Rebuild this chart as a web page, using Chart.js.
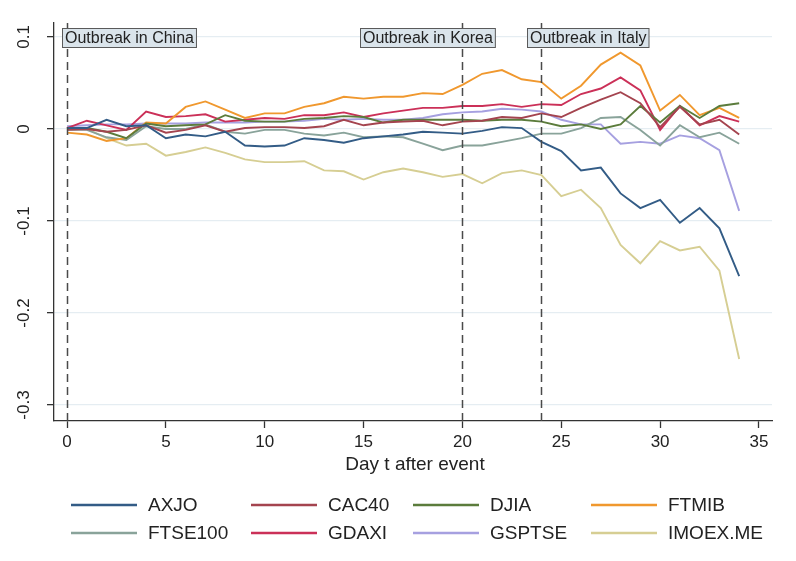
<!DOCTYPE html>
<html>
<head>
    <title>Index returns after outbreak events</title>
    <script src="https://cdn.jsdelivr.net/npm/chart.js@4.4.1/dist/chart.umd.min.js"></script>
    <style>
        body {
            margin: 0;
            background: #fff;
        }
        #chart {
            display: block;
        }
    </style>
</head>
<body>
    <canvas id="chart" width="796" height="561"></canvas>

    <script>
        // day t after the event
        const days = [0, 1, 2, 3, 4, 5, 6, 7, 8, 9, 10, 11, 12, 13, 14, 15, 16, 17,
                      18, 19, 20, 21, 22, 23, 24, 25, 26, 27, 28, 29, 30, 31, 32, 33, 34];

        const axjo = [0.001, 0.001, 0.010, 0.003, 0.004, -0.010, -0.006, -0.008, -0.003, -0.018, -0.019, -0.018,
                      -0.010, -0.012, -0.015, -0.010, -0.008, -0.006, -0.003, -0.004, -0.005, -0.002, 0.002, 0.001,
                      -0.014, -0.024, -0.045, -0.042, -0.070, -0.086, -0.077, -0.102, -0.086, -0.108, -0.160];
        const cac40 = [-0.001, 0.000, -0.003, -0.001, 0.004, -0.004, -0.001, 0.004, -0.003, 0.001, 0.002, 0.002,
                       0.001, 0.003, 0.010, 0.004, 0.007, 0.008, 0.009, 0.004, 0.008, 0.009, 0.013, 0.012,
                       0.017, 0.013, 0.023, 0.032, 0.040, 0.028, 0.002, 0.024, 0.005, 0.010, -0.006];
        const djia = [0.001, 0.001, -0.003, -0.010, 0.006, 0.003, 0.004, 0.005, 0.015, 0.009, 0.008, 0.008,
                      0.011, 0.012, 0.014, 0.013, 0.007, 0.010, 0.010, 0.010, 0.010, 0.009, 0.010, 0.010,
                      0.008, 0.003, 0.005, 0.000, 0.005, 0.025, 0.007, 0.025, 0.012, 0.025, 0.028];
        const ftmib = [-0.004, -0.006, -0.013, -0.010, 0.007, 0.006, 0.024, 0.030, 0.021, 0.012, 0.017, 0.017,
                       0.024, 0.028, 0.035, 0.033, 0.035, 0.035, 0.039, 0.038, 0.048, 0.060, 0.064, 0.054,
                       0.051, 0.033, 0.047, 0.070, 0.083, 0.069, 0.020, 0.037, 0.015, 0.023, 0.012];
        const ftse100 = [-0.001, -0.001, -0.009, -0.012, 0.003, 0.000, 0.000, 0.005, -0.003, -0.005, -0.001, -0.001,
                         -0.005, -0.007, -0.004, -0.009, -0.008, -0.009, -0.016, -0.023, -0.018, -0.018, -0.014, -0.010,
                         -0.005, -0.005, 0.001, 0.012, 0.013, -0.001, -0.018, 0.004, -0.009, -0.004, -0.016];
        const gdaxi = [0.001, 0.009, 0.004, -0.001, 0.019, 0.013, 0.014, 0.016, 0.008, 0.010, 0.012, 0.011,
                       0.015, 0.015, 0.018, 0.013, 0.017, 0.020, 0.023, 0.023, 0.025, 0.025, 0.027, 0.024,
                       0.027, 0.026, 0.038, 0.044, 0.056, 0.042, -0.001, 0.025, 0.004, 0.014, 0.008];
        const gsptse = [0.003, 0.004, 0.005, 0.005, 0.006, 0.006, 0.006, 0.007, 0.007, 0.007, 0.008, 0.008,
                        0.009, 0.011, 0.010, 0.011, 0.010, 0.010, 0.012, 0.016, 0.018, 0.019, 0.022, 0.021,
                        0.019, 0.010, 0.005, 0.005, -0.016, -0.014, -0.016, -0.007, -0.010, -0.023, -0.089];
        const imoex = [0.002, 0.000, -0.010, -0.018, -0.016, -0.029, -0.025, -0.020, -0.026, -0.033, -0.036, -0.036,
                       -0.035, -0.045, -0.046, -0.055, -0.047, -0.043, -0.047, -0.052, -0.049, -0.059, -0.048, -0.045,
                       -0.050, -0.073, -0.066, -0.086, -0.126, -0.146, -0.122, -0.132, -0.128, -0.154, -0.250];

        const seriesNames = ['AXJO', 'CAC40', 'DJIA', 'FTMIB', 'FTSE100', 'GDAXI', 'GSPTSE', 'IMOEX.ME'];
        const seriesValues = [axjo, cac40, djia, ftmib, ftse100, gdaxi, gsptse, imoex];
        const colors = ['#335c86', '#a4444f', '#5b7c3c', '#f0982e', '#89a39a', '#cb3058', '#a6a0e0', '#d6ce93'];

        const eventDays = [0, 20, 24];
        const eventLabels = ['Outbreak in China', 'Outbreak in Korea', 'Outbreak in Italy'];

        const xTicks = [0, 5, 10, 15, 20, 25, 30, 35];
        const yTicks = [0.1, 0, -0.1, -0.2, -0.3];
        const yTickLabels = ['0.1', '0', '-0.1', '-0.2', '-0.3'];
        const xTitle = 'Day t after event';

        const FONT = '"Liberation Sans", Arial, sans-serif';

        const overlay = {
            id: 'overlay',
            afterDatasetsDraw(chart) {
                const ctx = chart.ctx;
                const xs = chart.scales.x;
                const area = chart.chartArea;
                const boxLeft = [-0.25, 14.8, 23.25]; // where each label box starts, in days

                ctx.save();
                // dashed event lines
                ctx.strokeStyle = '#4a4a4a';
                ctx.lineWidth = 1.5;
                ctx.setLineDash([8, 5]);
                eventDays.forEach(d => {
                    const px = Math.round(xs.getPixelForValue(d)) + 0.5;
                    ctx.beginPath();
                    ctx.moveTo(px, area.top);
                    ctx.lineTo(px, area.bottom);
                    ctx.stroke();
                });
                ctx.setLineDash([]);

                // label boxes
                ctx.font = '16px ' + FONT;
                ctx.textBaseline = 'middle';
                ctx.textAlign = 'left';
                eventLabels.forEach((txt, i) => {
                    const w = ctx.measureText(txt).width + 5;
                    const left = Math.round(xs.getPixelForValue(boxLeft[i])) + 0.5;
                    const top = 28.5, h = 19;
                    ctx.fillStyle = '#dae4eb';
                    ctx.fillRect(left, top, w, h);
                    ctx.strokeStyle = '#5a5a5a';
                    ctx.lineWidth = 1;
                    ctx.strokeRect(left, top, w, h);
                    ctx.fillStyle = '#222';
                    ctx.fillText(txt, left + 2.5, top + h / 2 + 1);
                });
                ctx.restore();
            },
            afterDraw(chart) {
                const ctx = chart.ctx;
                const ys = chart.scales.y;
                const area = chart.chartArea;

                ctx.save();
                ctx.fillStyle = '#222';

                // rotated y tick labels
                ctx.font = '17px ' + FONT;
                ctx.textAlign = 'center';
                ctx.textBaseline = 'middle';
                yTicks.forEach((v, i) => {
                    ctx.save();
                    ctx.translate(24, ys.getPixelForValue(v));
                    ctx.rotate(-Math.PI / 2);
                    ctx.fillText(yTickLabels[i], 0, 0);
                    ctx.restore();
                });

                // x axis title
                ctx.font = '19px ' + FONT;
                ctx.fillText(xTitle, (area.left + area.right) / 2 + 2, 465);

                // legend, 4 columns x 2 rows
                const cols = [71, 251, 413, 591];
                const rows = [505, 533];
                ctx.textAlign = 'left';
                ctx.font = '19px ' + FONT;
                chart.data.datasets.forEach((ds, i) => {
                    const x = cols[i % 4];
                    const y = rows[Math.floor(i / 4)];
                    ctx.strokeStyle = ds.borderColor;
                    ctx.lineWidth = 2.5;
                    ctx.beginPath();
                    ctx.moveTo(x, y);
                    ctx.lineTo(x + 66, y);
                    ctx.stroke();
                    ctx.fillStyle = '#222';
                    ctx.fillText(ds.label, x + 77, y + 1);
                });
                ctx.restore();
            }
        };

        const datasets = seriesNames.map((name, i) => ({
            label: name,
            data: seriesValues[i],
            borderColor: colors[i],
            backgroundColor: colors[i],
            borderWidth: 1.9,
            pointRadius: 0,
            tension: 0,
            fill: false
        }));

        new Chart(document.getElementById('chart'), {
            type: 'line',
            data: { labels: days, datasets: datasets },
            plugins: [overlay],
            options: {
                responsive: false,
                animation: false,
                layout: { padding: { top: 23, right: 24, left: 0, bottom: 0 } },
                plugins: {
                    legend: { display: false },
                    tooltip: { enabled: false }
                },
                scales: {
                    x: {
                        type: 'linear',
                        min: -0.66,
                        max: 35.66,
                        afterBuildTicks: s => { s.ticks = xTicks.map(v => ({ value: v })); },
                        afterFit: s => { s.height = 140; },
                        grid: {
                            drawOnChartArea: false,
                            drawTicks: true,
                            tickLength: 7,
                            tickColor: '#333',
                            tickWidth: 1.3
                        },
                        border: { display: true, color: '#333', width: 1.3 },
                        ticks: {
                            font: { family: FONT, size: 17 },
                            color: '#222',
                            padding: 4,
                            maxRotation: 0,
                            autoSkip: false
                        }
                    },
                    y: {
                        min: -0.3174,
                        max: 0.1152,
                        afterBuildTicks: s => { s.ticks = yTicks.map(v => ({ value: v })); },
                        afterFit: s => { s.width = 54; },
                        grid: {
                            color: '#e5edf2',
                            lineWidth: 1.3,
                            drawTicks: true,
                            tickLength: 7,
                            tickColor: '#333',
                            tickWidth: 1.3
                        },
                        border: { display: true, color: '#333', width: 1.3 },
                        ticks: { display: false }
                    }
                }
            }
        });
    </script>
</body>
</html>
